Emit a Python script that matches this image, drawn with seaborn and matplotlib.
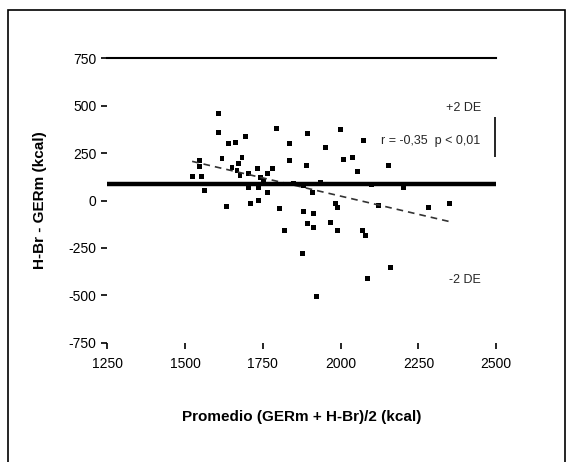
import matplotlib
matplotlib.use("Agg")
import matplotlib.pyplot as plt
import numpy as np
import pandas as pd
import seaborn as sns
from matplotlib.patches import Rectangle

# ===================== DATA =====================
promedio = [1607, 1607, 1639, 1662, 1694, 1793, 1836, 1893, 1951, 1999,
            2073, 2154, 2054, 2009, 2037, 1836, 1890, 1546, 1546, 1523,
            1552, 1562, 1619, 1651, 1667, 1683, 1672, 1677, 1704, 1732,
            1742, 1764, 1780, 1752, 1704, 1736, 1764, 1633, 1710, 1736,
            1803, 1819, 1881, 1913, 1893, 1913, 1909, 1935, 1967, 1990,
            1983, 1990, 2070, 2080, 1877, 1922, 2086, 2160, 2121, 2202,
            2282, 2350, 1850, 1880, 2100]
diferencia = [458, 358, 300, 305, 337, 379, 300, 353, 279, 374,
              316, 184, 153, 216, 226, 210, 184, 210, 179, 126,
              126, 53, 221, 174, 158, 226, 195, 132, 142, 168,
              121, 142, 168, 105, 68, 68, 42, -32, -16, 0,
              -42, -158, -58, -68, -121, -142, 42, 95, -116, -158,
              -16, -37, -158, -184, -279, -505, -411, -353, -26, 68,
              -37, -16, 90, 80, 85]

media_dif = 88
x_ticks = [1250, 1500, 1750, 2000, 2250, 2500]
y_ticks = [750, 500, 250, 0, -250, -500, -750]

df = pd.DataFrame({"promedio": promedio, "diferencia": diferencia})

# ===================== PLOT =====================
sns.set_style("white")
plt.rcParams["font.family"] = ["Liberation Sans", "DejaVu Sans"]

fig = plt.figure(figsize=(5.73, 4.62), dpi=100)
ax = fig.add_axes([0.187, 0.258, 0.679, 0.616])

sns.scatterplot(data=df, x="promedio", y="diferencia", ax=ax,
                marker="s", s=12, color="black", edgecolor="none")
sns.regplot(data=df, x="promedio", y="diferencia", ax=ax, scatter=False,
            ci=None, truncate=True,
            line_kws={"color": "#333333", "ls": (0, (4, 3)), "lw": 1.2})

ax.axhline(media_dif, color="black", lw=3.2)

ax.set_xlim(1250, 2500)
ax.set_ylim(-750, 750)
ax.set_xticks(x_ticks)
ax.set_yticks(y_ticks)
ax.set_xticklabels([str(t) for t in x_ticks], fontsize=10)
ax.set_yticklabels([str(t) for t in y_ticks], fontsize=10)
ax.tick_params(axis="both", bottom=True, left=True, length=4, width=1.2,
               color="black", labelcolor="black", direction="out")
ax.tick_params(axis="x", pad=6)

for side in ["left", "bottom", "right"]:
    ax.spines[side].set_visible(False)
ax.spines["top"].set_linewidth(1.5)
ax.spines["top"].set_color("black")

ax.set_xlabel("Promedio (GERm + H-Br)/2 (kcal)", fontsize=11, fontweight="bold",
              labelpad=28, color="black")
ax.set_ylabel("H-Br - GERm (kcal)", fontsize=11, fontweight="bold", labelpad=16,
              color="black")

ax.text(2450, 490, "+2 DE", ha="right", va="center", fontsize=9)
ax.text(2450, 315, "r = -0,35  p < 0,01", ha="right", va="center", fontsize=9)
ax.text(2450, -420, "-2 DE", ha="right", va="center", fontsize=9)
ax.vlines(2495, 230, 440, color="black", lw=1.2)

fig.patches.append(Rectangle((0.014, -0.1), 0.972, 1.078, transform=fig.transFigure,
                             fill=False, edgecolor="black", lw=1.2))

fig.savefig("out.png", dpi=100)
